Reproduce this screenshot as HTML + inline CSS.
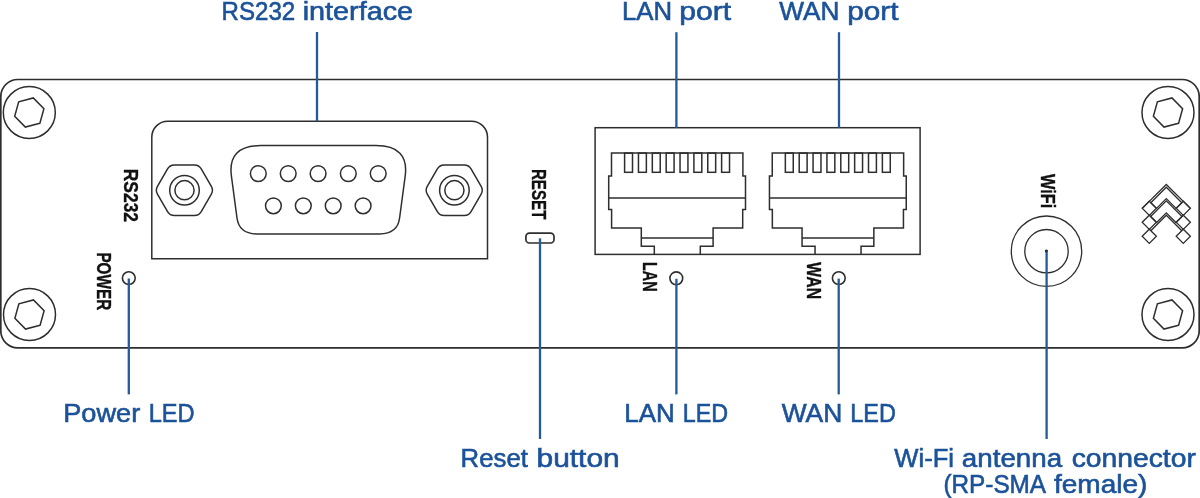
<!DOCTYPE html>
<html><head><meta charset="utf-8"><title>Router front panel</title>
<style>
html,body{margin:0;padding:0;background:#fff;width:1200px;height:498px;overflow:hidden}
svg{display:block;will-change:transform}
.lbl{font-family:"Liberation Sans",sans-serif;font-size:25.5px;fill:#1b5299;stroke:#1b5299;stroke-width:0.6px}
.dev{font-family:"Liberation Sans",sans-serif;font-weight:bold;font-size:19.5px;fill:#111;stroke:#111;stroke-width:0.35px}
.k{fill:none;stroke:#2e2e2e;stroke-width:1.5}
.kt{fill:none;stroke:#2e2e2e;stroke-width:1.3}
.b{fill:none;stroke:#245a98;stroke-width:2.3}
</style></head>
<body>
<svg width="1200" height="498" viewBox="0 0 1200 498">
<!-- panel -->
<rect class="k" x="0.8" y="79.5" width="1198.4" height="268.3" rx="17" ry="17" style="stroke-width:1.7"/>
<!-- screws -->
<g class="k">
<circle cx="29.3" cy="112.5" r="26"/>
<polygon points="39.92,123.23 25.32,127.06 14.69,116.33 18.68,101.77 33.28,97.94 43.91,108.67"/>
<circle cx="29.5" cy="314.5" r="26"/>
<polygon points="40.12,325.23 25.52,329.06 14.89,318.33 18.88,303.77 33.48,299.94 44.11,310.67"/>
<circle cx="1168" cy="112.5" r="26"/>
<polygon points="1178.62,123.23 1164.02,127.06 1153.39,116.33 1157.38,101.77 1171.98,97.94 1182.61,108.67"/>
<circle cx="1168" cy="314.5" r="26"/>
<polygon points="1178.62,325.23 1164.02,329.06 1153.39,318.33 1157.38,303.77 1171.98,299.94 1182.61,310.67"/>
</g>
<!-- RS232 connector -->
<g class="k">
<path d="M151.8,258.8 V137.2 A16,16 0 0 1 167.8,121.2 H471.5 A16,16 0 0 1 487.5,137.2 V258.8 Z"/>
<path d="M260.6,145.6 H376 Q409.2,145.6 405.2,176 L399.6,218 Q397.5,233.9 379.6,233.9 H257 Q239.1,233.9 237,218 L231.4,176 Q227.4,145.6 260.6,145.6 Z"/>
<path d="M211.35,186.30 Q213.60,190.20 211.35,194.10 L201.25,211.59 Q199.00,215.49 194.50,215.49 L174.30,215.49 Q169.80,215.49 167.55,211.59 L157.45,194.10 Q155.20,190.20 157.45,186.30 L167.55,168.81 Q169.80,164.91 174.30,164.91 L194.50,164.91 Q199.00,164.91 201.25,168.81 Z"/>
<path d="M481.15,186.30 Q483.40,190.20 481.15,194.10 L471.05,211.59 Q468.80,215.49 464.30,215.49 L444.10,215.49 Q439.60,215.49 437.35,211.59 L427.25,194.10 Q425.00,190.20 427.25,186.30 L437.35,168.81 Q439.60,164.91 444.10,164.91 L464.30,164.91 Q468.80,164.91 471.05,168.81 Z"/>
<circle cx="184.5" cy="190.2" r="14.8"/><circle cx="184.5" cy="190.2" r="9.6"/>
<circle cx="454.4" cy="190.2" r="14.8"/><circle cx="454.4" cy="190.2" r="9.6"/>
<circle cx="258.3" cy="173.6" r="7.9"/><circle cx="288.2" cy="173.6" r="7.9"/><circle cx="318.1" cy="173.6" r="7.9"/><circle cx="348.3" cy="173.6" r="7.9"/><circle cx="378.2" cy="173.6" r="7.9"/>
<circle cx="273.4" cy="205.8" r="7.9"/><circle cx="303.3" cy="205.8" r="7.9"/><circle cx="333.2" cy="205.8" r="7.9"/><circle cx="363.1" cy="205.8" r="7.9"/>
</g>
<!-- reset button -->
<rect class="k" x="525.9" y="233.1" width="28.1" height="9.9" rx="3.5" style="stroke-width:1.7"/>
<!-- RJ45 block -->
<g class="k">
<rect x="595.1" y="127.7" width="325" height="126.7"/>
<g id="port">
<path d="M654.3,254.4 V246.2 H641.3 V228 H611.6 V209.4 H608.7 V176 H611.5 V153.1 H742.9 V176 H745.5 V209.4 H742.7 V228 H713.1 V246.2 H700.3 V254.4"/>
<path d="M608.7,197.9 H745.5 M641.3,237.9 H713.1"/>
<rect x="624.6" y="153.1" width="7.9" height="19.2"/>
<rect x="638.46" y="153.1" width="7.9" height="19.2"/>
<rect x="652.32" y="153.1" width="7.9" height="19.2"/>
<rect x="666.18" y="153.1" width="7.9" height="19.2"/>
<rect x="680.04" y="153.1" width="7.9" height="19.2"/>
<rect x="693.9" y="153.1" width="7.9" height="19.2"/>
<rect x="707.76" y="153.1" width="7.9" height="19.2"/>
<rect x="721.62" y="153.1" width="7.9" height="19.2"/>
</g>
<use href="#port" transform="translate(160.75,0)"/>
</g>
<!-- LEDs -->
<g class="k" style="stroke-width:1.6">
<circle cx="128.8" cy="278.1" r="6.4"/>
<circle cx="676.3" cy="278.3" r="6.4"/>
<circle cx="838.8" cy="278.1" r="6.4"/>
</g>
<!-- WiFi connector -->
<g class="kt">
<circle cx="1046.5" cy="251.2" r="35.2"/>
<circle cx="1046.5" cy="251.2" r="21.7"/>
</g>
<circle cx="1046.4" cy="251.1" r="1.6" fill="#222"/>
<!-- logo -->
<g class="kt" style="stroke:#2e2e2e;stroke-width:1.3">
<polyline points="1142.2,208.4 1166.3,184.5 1190.4,208.4"/>
<polygon points="1150.8,202.7 1166.3,187.2 1181.8,202.7 1176.1,208.4 1166.3,198.6 1156.5,208.4"/>
<polygon points="1150.6,216.5 1166.3,200.8 1182.0,216.5 1176.0,222.5 1166.3,212.8 1156.6,222.5"/>
<polyline points="1150.8,230.7 1166.3,215.2 1181.8,230.7"/>
<polygon points="1142.2,208.3 1149.3,201.2 1156.4,208.3 1149.3,215.4"/>
<polygon points="1142.2,222.3 1149.3,215.2 1156.4,222.3 1149.3,229.4"/>
<polygon points="1142.2,236.3 1149.3,229.2 1156.4,236.3 1149.3,243.4"/>
<polygon points="1176.2,208.3 1183.3,201.2 1190.4,208.3 1183.3,215.4"/>
<polygon points="1176.2,222.3 1183.3,215.2 1190.4,222.3 1183.3,229.4"/>
<polygon points="1176.2,236.3 1183.3,229.2 1190.4,236.3 1183.3,243.4"/>
</g>
<!-- device labels (rotated) -->
<text class="dev" transform="translate(123.5,168.8) rotate(90)" textLength="53.2" lengthAdjust="spacingAndGlyphs">RS232</text>
<text class="dev" transform="translate(97.2,252.4) rotate(90)" textLength="57.8" lengthAdjust="spacingAndGlyphs">POWER</text>
<text class="dev" style="font-size:20.3px" transform="translate(532.1,168.9) rotate(90)" textLength="50.6" lengthAdjust="spacingAndGlyphs">RESET</text>
<text class="dev" transform="translate(643.4,262) rotate(90)" textLength="29.6" lengthAdjust="spacingAndGlyphs">LAN</text>
<text class="dev" transform="translate(807.4,262.3) rotate(90)" textLength="36.8" lengthAdjust="spacingAndGlyphs">WAN</text>
<text class="dev" transform="translate(1041.2,174) rotate(90)" textLength="34.3" lengthAdjust="spacingAndGlyphs">WiFi</text>
<!-- blue leader lines -->
<g class="b">
<path d="M317,32 V121.2"/>
<path d="M676.4,32.2 V127.7"/>
<path d="M839,32.2 V127.7"/>
<path d="M128.8,278.5 V394.4"/>
<path d="M540,238.3 V439"/>
<path d="M676.4,278.8 V394.4"/>
<path d="M838.7,278.6 V394.4"/>
<path d="M1046.6,251.5 V439"/>
</g>
<!-- blue labels -->
<text class="lbl" x="221.55" y="19.5" textLength="73.67" lengthAdjust="spacingAndGlyphs">RS232</text>
<text class="lbl" x="302.69" y="19.5" textLength="110.42" lengthAdjust="spacingAndGlyphs">interface</text>
<text class="lbl" x="621.93" y="19.6" textLength="50.04" lengthAdjust="spacingAndGlyphs">LAN</text>
<text class="lbl" x="679.32" y="19.6" textLength="51.91" lengthAdjust="spacingAndGlyphs">port</text>
<text class="lbl" x="779.26" y="19.6" textLength="60.09" lengthAdjust="spacingAndGlyphs">WAN</text>
<text class="lbl" x="847.34" y="19.6" textLength="51.19" lengthAdjust="spacingAndGlyphs">port</text>
<text class="lbl" x="63.24" y="421.9" textLength="77.0" lengthAdjust="spacingAndGlyphs">Power</text>
<text class="lbl" x="148.68" y="421.9" textLength="45.91" lengthAdjust="spacingAndGlyphs">LED</text>
<text class="lbl" x="624.32" y="421.9" textLength="50.47" lengthAdjust="spacingAndGlyphs">LAN</text>
<text class="lbl" x="682.8" y="421.9" textLength="45.38" lengthAdjust="spacingAndGlyphs">LED</text>
<text class="lbl" x="781.66" y="421.9" textLength="60.6" lengthAdjust="spacingAndGlyphs">WAN</text>
<text class="lbl" x="850.29" y="421.9" textLength="45.59" lengthAdjust="spacingAndGlyphs">LED</text>
<text class="lbl" x="460.63" y="467.2" textLength="67.23" lengthAdjust="spacingAndGlyphs">Reset</text>
<text class="lbl" x="536.53" y="467.2" textLength="83.21" lengthAdjust="spacingAndGlyphs">button</text>
<text class="lbl" x="894.35" y="467.2" textLength="59.72" lengthAdjust="spacingAndGlyphs">Wi-Fi</text>
<text class="lbl" x="961.88" y="467.2" textLength="100.27" lengthAdjust="spacingAndGlyphs">antenna</text>
<text class="lbl" x="1071.67" y="467.2" textLength="124.22" lengthAdjust="spacingAndGlyphs">connector</text>
<text class="lbl" x="943.41" y="492.7" textLength="102.68" lengthAdjust="spacingAndGlyphs">(RP-SMA</text>
<text class="lbl" x="1054.0" y="492.7" textLength="93.41" lengthAdjust="spacingAndGlyphs">female)</text>
</svg>
</body></html>
